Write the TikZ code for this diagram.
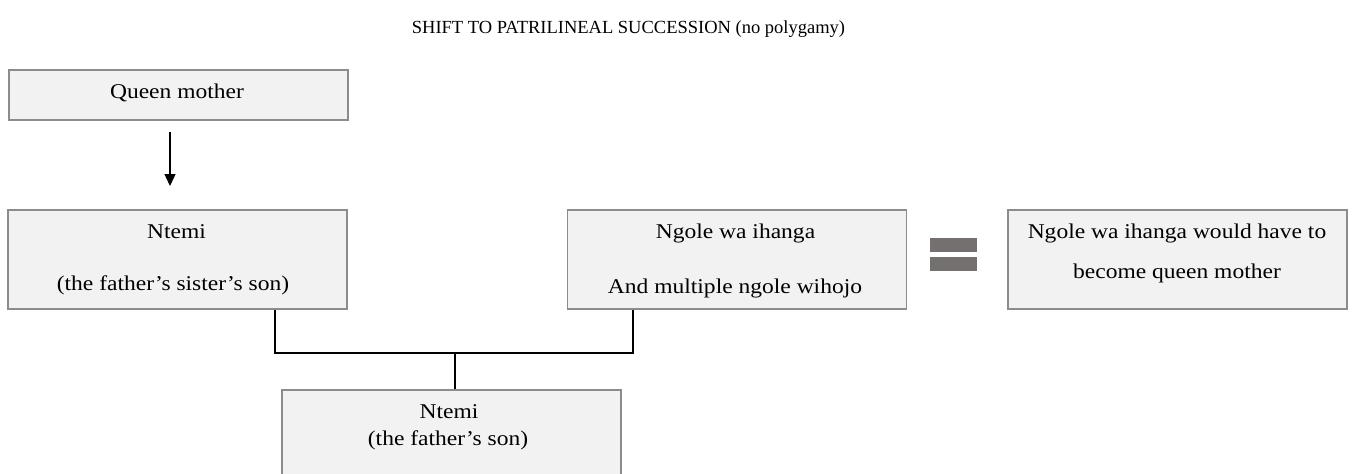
\documentclass[tikz,border=0pt]{standalone}
\usepackage{fontspec}
\setmainfont{Liberation Serif}
\newfontfamily\boxfont[FakeStretch=1.12]{Liberation Serif}
\usetikzlibrary{arrows.meta,positioning}
\definecolor{boxfill}{RGB}{242,242,242}
\definecolor{boxline}{RGB}{140,140,140}
\definecolor{eqgray}{RGB}{117,112,112}

\tikzset{
    box/.style={draw=boxline, fill=boxfill, line width=1.5pt, inner sep=0pt,
                minimum width=339pt},
    boxtext/.style={font=\boxfont\fontsize{21}{25}\selectfont, anchor=base, inner sep=0pt},
    title/.style={font=\fontsize{18.5}{22}\selectfont, anchor=base, inner sep=0pt},
    link/.style={draw, line width=1.4pt},
    eqbar/.style={fill=eqgray}
}

\begin{document}
\begin{tikzpicture}[x=1pt,y=-1pt,>={Triangle[length=12pt,width=11pt]}]
    \useasboundingbox (0,0) rectangle (1353,474);
    \clip (0,0) rectangle (1353,474);

    \node[title] (head) at (628.5,33) {SHIFT TO PATRILINEAL SUCCESSION (no polygamy)};

    % boxes
    \node[box, minimum height=50pt] (qm) at (178.5,95) {};
    \node[box, minimum height=99pt] (ntemi) at (177.5,259.5) {};
    \node[box, minimum height=99pt] (ngole) at (737,259.5) {};
    \node[box, minimum height=99pt] (queen) at (1177.5,259.5) {};
    \node[box, minimum height=130pt] (son) at (451.5,455) {};

    % texts
    \node[boxtext] (qmtxt) at (177,98) {Queen mother};
    \node[boxtext] (ntemitxt) at (176.5,238) {Ntemi};
    \node[boxtext] (ntemisub) at (173,290) {(the father’s sister’s son)};
    \node[boxtext] (ngoletxt) at (735.5,238) {Ngole wa ihanga};
    \node[boxtext] (ngolesub) at (735,293) {And multiple ngole wihojo};
    \node[boxtext] (queentxt) at (1177,238) {Ngole wa ihanga would have to};
    \node[boxtext] (queensub) at (1177,278) {become queen mother};
    \node[boxtext] (sontxt) at (449,418) {Ntemi};
    \node[boxtext] (sonsub) at (448,445) {(the father’s son)};

    % equals sign
    \fill[eqbar] (930,238) rectangle (977,252);
    \fill[eqbar] (930,257) rectangle (977,271);

    \coordinate (arrtop) at (170,132);
    \coordinate (arrtip) at (170,186);
    \coordinate (lj) at (275,353);
    \coordinate (rj) at (633,353);
    \coordinate (mj) at (455,353);

    \draw[link,->] (arrtop) -- (arrtip);
    \draw[link] (ntemi.south -| lj) -- (lj) -- (rj) -- (ngole.south -| rj);
    \draw[link] (mj) -- (son.north -| mj);
\end{tikzpicture}
\end{document}
